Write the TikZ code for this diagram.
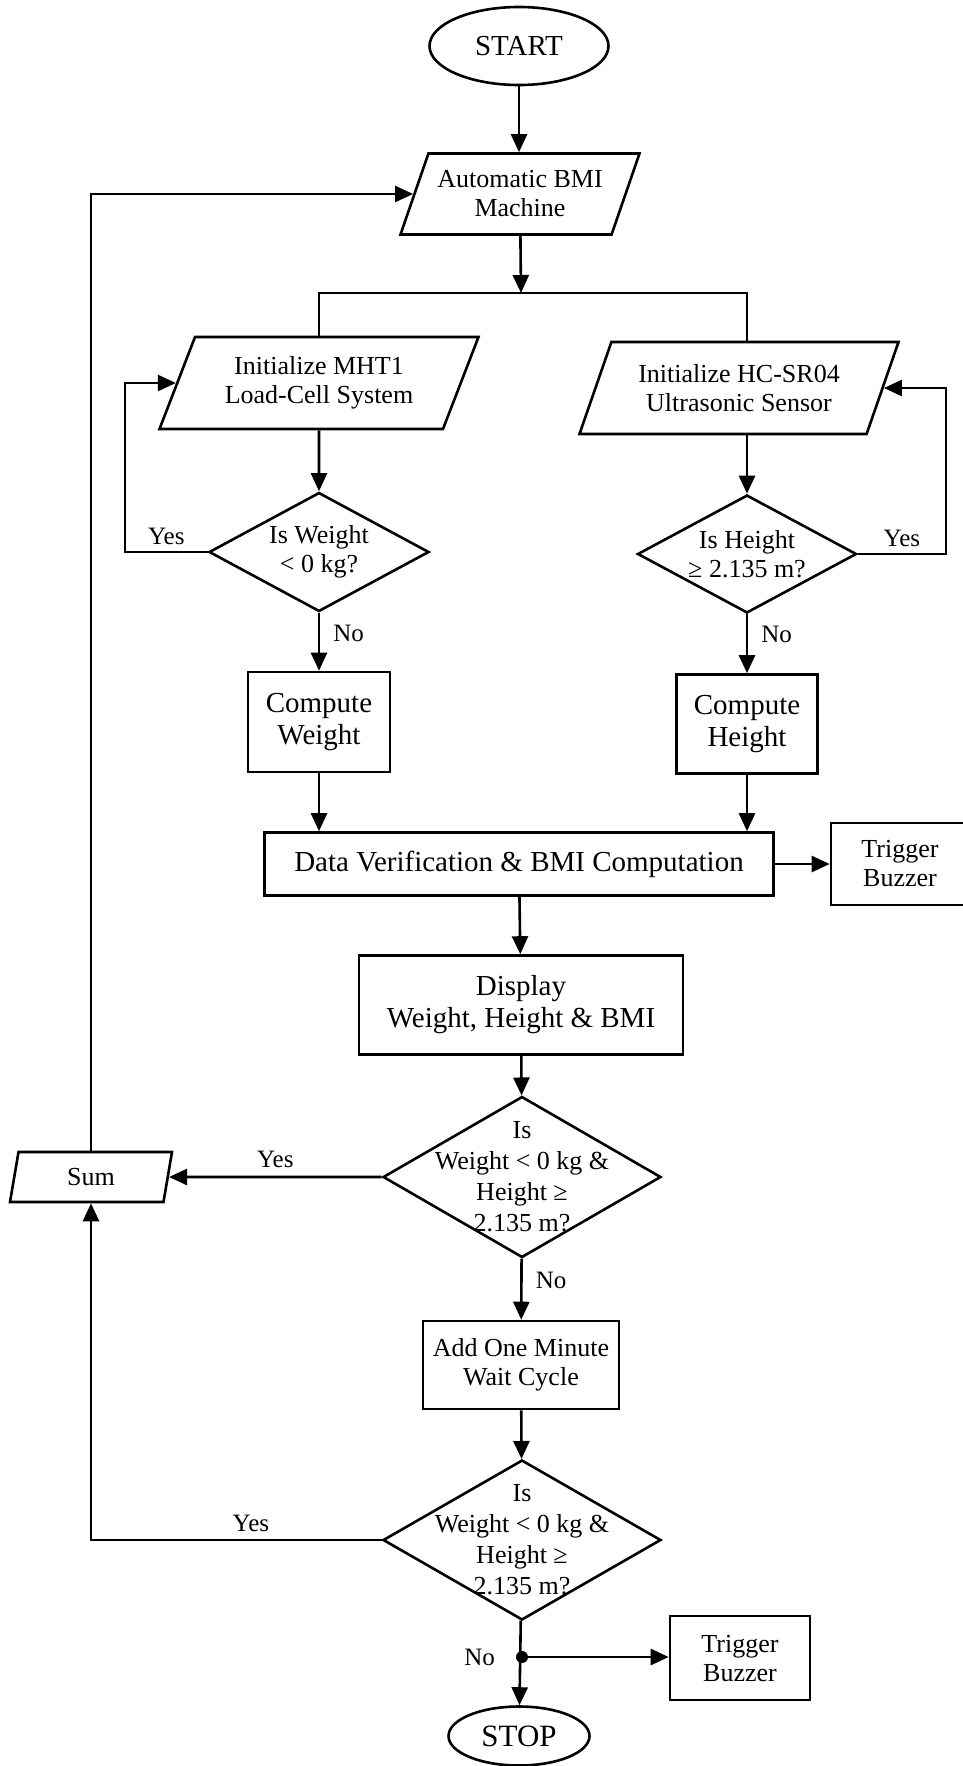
\documentclass[tikz,border=0pt]{standalone}
\usepackage{fontspec}
\setmainfont{Liberation Serif}
\usepackage{tikz}
\usetikzlibrary{arrows.meta,shapes.geometric}
\newcommand{\txtS}{\fontsize{26}{29}\selectfont}
\newcommand{\txtL}{\fontsize{29}{32}\selectfont}
\tikzset{
  ln/.style={line width=2.6pt},
  arr/.style={line width=2.6pt,-{Triangle[length=18pt,width=16pt]}},
  proc/.style={draw,line width=2.6pt,align=center,inner sep=0pt,font=\txtL},
  io/.style={draw,line width=2.6pt,align=center,inner sep=0pt,font=\txtS,trapezium,
    trapezium left angle=56,trapezium right angle=124,trapezium stretches body},
  dia/.style={draw,line width=2.6pt,diamond,inner sep=0pt,shape aspect=1.85,align=center,font=\txtS},
  term/.style={draw,line width=2.6pt,ellipse,inner sep=0pt},
  lbl/.style={font=\fontsize{25}{28}\selectfont,inner sep=3pt}
}
\begin{document}
\begin{tikzpicture}[x=1pt,y=-1pt]
\useasboundingbox (0,0) rectangle (963,1766);
\node[term,font=\txtL,minimum width=179pt,minimum height=78pt] (start) at (519,46) {START};
\node[io,trapezium left angle=59,trapezium right angle=121,minimum width=239pt,minimum height=81pt] (bmi) at (520,194) {Automatic BMI\\Machine};
\coordinate (fork) at (521,293);
\node[io,minimum width=319pt,minimum height=92pt] (mht) at (319,383) {Initialize MHT1\\Load-Cell System};
\node[io,minimum width=319pt,minimum height=92pt] (hcs) at (739,388) {Initialize HC-SR04\\Ultrasonic Sensor};
\node[dia,minimum width=220pt,minimum height=119pt] (chkW) at (319,552) {Is Weight\\< 0 kg?};
\node[dia,minimum width=219pt,minimum height=118pt] (chkH) at (747,554) {Is Height\\≥ 2.135 m?};
\coordinate (wloop) at (125,552);
\coordinate (hloop) at (946,554);
\node[proc,minimum width=142pt,minimum height=100pt] (cw) at (319,722) {Compute\\Weight};
\node[proc,minimum width=141pt,minimum height=99pt] (ch) at (747,724) {Compute\\Height};
\node[proc,minimum width=509pt,minimum height=63pt] (dv) at (519,864) {Data Verification \& BMI Computation};
\node[proc,font=\txtS,minimum width=138pt,minimum height=82pt] (buzA) at (900,864) {Trigger\\Buzzer};
\node[proc,minimum width=324pt,minimum height=99pt] (disp) at (521,1005) {Display\\Weight, Height \& BMI};
\node[dia,shape aspect=1.73,minimum width=278pt,minimum height=161pt] (chkA) at (522,1177) {};
\node[font=\fontsize{26}{31}\selectfont,align=center] (chkAtxt) at (chkA) {Is\\Weight < 0 kg \&\\Height ≥\\2.135 m?};
\node[io,trapezium left angle=64,trapezium right angle=116,minimum width=162pt,minimum height=50pt] (sum) at (91,1177) {Sum};
\node[proc,font=\txtS,minimum width=196pt,minimum height=88pt] (add) at (521,1365) {Add One Minute\\Wait Cycle};
\node[dia,shape aspect=1.73,minimum width=278pt,minimum height=160pt] (chkB) at (522,1540) {};
\node[font=\fontsize{26}{31}\selectfont,align=center] (chkBtxt) at (chkB) {Is\\Weight < 0 kg \&\\Height ≥\\2.135 m?};
\node[circle,fill,inner sep=0pt,minimum size=12pt] (dot) at (522,1657) {};
\node[proc,font=\txtS,minimum width=140pt,minimum height=84pt] (buzB) at (740,1658) {Trigger\\Buzzer};
\node[term,font=\fontsize{31}{34}\selectfont,minimum width=141pt,minimum height=59pt] (stop) at (519,1736) {STOP};
\draw[arr] (start) -- (start |- bmi.north);
\draw[arr] (bmi) -- (fork);
\draw[ln] (mht.north) |- (fork) -| (chkH.north |- hcs.north);
\draw[arr] (mht) -- (chkW);
\draw[arr] (chkH.north |- hcs.south) -- (chkH);
\draw[arr] (chkW) -- node[lbl,above=3pt] (yesW) {Yes} (wloop) |- (mht);
\draw[arr] (chkH) -- node[lbl,above=3pt] (yesH) {Yes} (hloop) |- (hcs);
\draw[arr] (chkW) -- node[lbl,right=10pt,pos=0.35] (noW) {No} (cw);
\draw[arr] (chkH) -- node[lbl,right=10pt,pos=0.35] (noH) {No} (ch);
\draw[arr] (cw) -- (cw |- dv.north);
\draw[arr] (ch) -- (ch |- dv.north);
\draw[arr] (dv) -- (buzA);
\draw[arr] (dv) -- (disp);
\draw[arr] (disp) -- (chkA);
\draw[arr] (chkA) -- node[lbl,above=5pt] (yesA) {Yes} (sum);
\draw[arr] (chkA) -- node[lbl,right=10pt,pos=0.35] (noA) {No} (add);
\draw[arr] (sum) |- (bmi);
\draw[arr] (add) -- (chkB);
\draw[arr] (chkB.west) -- node[lbl,above=4pt,pos=0.45] (yesB) {Yes} (chkB.west -| sum) -- (sum);
\draw[arr] (chkB) -- (stop);
\draw[arr] (dot) -- (dot -| buzB.west);
\node[lbl,left=24pt] (noB) at (dot) {No};
\end{tikzpicture}
\end{document}
